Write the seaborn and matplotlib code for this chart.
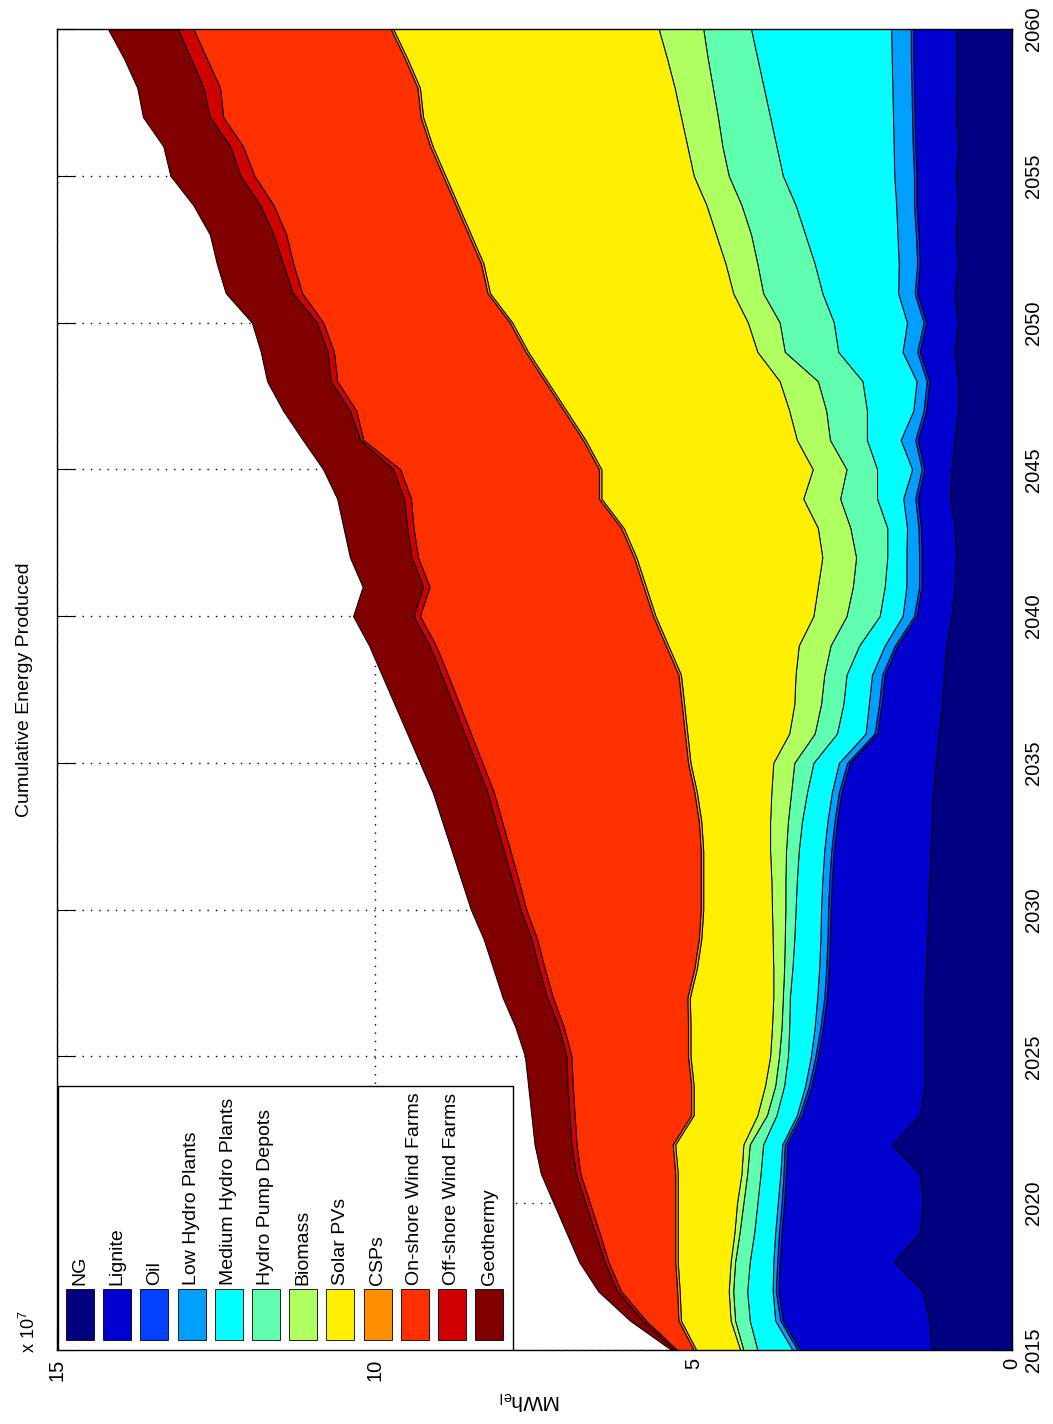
import numpy as np
import pandas as pd
import matplotlib
matplotlib.use("Agg")
import matplotlib.pyplot as plt
import seaborn as sns
from matplotlib.patches import Rectangle

# ---------------- data (values in 1e7 MWh_el) ----------------
years = list(range(2015, 2061))
sources = ["NG", "Lignite", "Oil", "Low Hydro Plants", "Medium Hydro Plants",
           "Hydro Pump Depots", "Biomass", "Solar PVs", "CSPs",
           "On-shore Wind Farms", "Off-shore Wind Farms", "Geothermy"]

ng = [1.26, 1.30, 1.40, 1.85, 1.45, 1.40, 1.45, 1.88, 1.45, 1.37,
      1.37, 1.37, 1.37, 1.35, 1.33, 1.32, 1.30, 1.28, 1.26, 1.24,
      1.20, 1.15, 1.10, 1.07, 1.03, 0.95, 0.90, 0.88, 0.90, 0.97,
      0.95, 0.90, 0.85, 0.85, 0.90, 0.85, 0.90, 0.85, 0.88, 0.85,
      0.88, 0.85, 0.88, 0.87, 0.87, 0.87]
lignite = [2.07, 2.30, 2.27, 1.80, 2.17, 2.18, 2.10, 1.65, 1.85, 1.78,
           1.68, 1.60, 1.54, 1.53, 1.53, 1.53, 1.53, 1.52, 1.49, 1.44,
           1.35, 0.97, 0.95, 0.93, 0.77, 0.55, 0.52, 0.54, 0.53, 0.51,
           0.43, 0.58, 0.50, 0.45, 0.55, 0.50, 0.59, 0.60, 0.59, 0.65,
           0.62, 0.67, 0.65, 0.67, 0.68, 0.68]
oil = [0.04, 0.04, 0.04, 0.04, 0.04, 0.04, 0.04, 0.04, 0.04, 0.04,
       0.04, 0.04, 0.04, 0.04, 0.04, 0.04, 0.04, 0.04, 0.04, 0.04,
       0.04, 0.04, 0.04, 0.04, 0.04, 0.04, 0.04, 0.04, 0.04, 0.04,
       0.04, 0.04, 0.04, 0.04, 0.04, 0.04, 0.04, 0.04, 0.04, 0.04,
       0.04, 0.04, 0.04, 0.04, 0.04, 0.04]
low_hydro = [0.08, 0.08, 0.05, 0.06, 0.06, 0.06, 0.05, 0.04, 0.04, 0.06,
             0.07, 0.09, 0.11, 0.11, 0.11, 0.11, 0.11, 0.11, 0.11, 0.11,
             0.13, 0.14, 0.16, 0.16, 0.16, 0.18, 0.20, 0.20, 0.18, 0.19,
             0.15, 0.23, 0.16, 0.16, 0.23, 0.26, 0.26, 0.29, 0.29, 0.28,
             0.31, 0.30, 0.30, 0.30, 0.30, 0.31]
medium_hydro = [0.55, 0.40, 0.40, 0.37, 0.33, 0.32, 0.31, 0.30, 0.32, 0.33,
                0.36, 0.40, 0.43, 0.42, 0.41, 0.40, 0.40, 0.40, 0.40, 0.39,
                0.40, 0.45, 0.40, 0.40, 0.40, 0.36, 0.34, 0.30, 0.31, 0.41,
                0.55, 0.53, 0.73, 0.85, 1.01, 1.15, 1.19, 1.32, 1.45, 1.58,
                1.75, 1.84, 1.93, 2.02, 2.11, 2.20]
hydro_pump = [0.22, 0.23, 0.22, 0.23, 0.23, 0.22, 0.21, 0.21, 0.15, 0.14,
              0.14, 0.12, 0.11, 0.13, 0.15, 0.16, 0.18, 0.20, 0.22, 0.25,
              0.30, 0.35, 0.35, 0.35, 0.45, 0.52, 0.50, 0.49, 0.58, 0.58,
              0.48, 0.58, 0.64, 0.70, 0.84, 0.85, 0.93, 0.90, 0.85, 0.85,
              0.85, 0.85, 0.82, 0.80, 0.78, 0.75]
biomass = [0.05, 0.07, 0.07, 0.07, 0.08, 0.10, 0.09, 0.10, 0.15, 0.16,
           0.14, 0.15, 0.15, 0.17, 0.19, 0.21, 0.22, 0.25, 0.28, 0.31,
           0.33, 0.40, 0.42, 0.45, 0.50, 0.52, 0.55, 0.53, 0.51, 0.58,
           0.53, 0.52, 0.58, 0.60, 0.43, 0.50, 0.47, 0.50, 0.55, 0.55,
           0.55, 0.55, 0.58, 0.60, 0.64, 0.70]
solar_pv = [0.69, 0.78, 0.77, 0.83, 0.89, 0.93, 1.00, 1.07, 1.00, 1.12,
            1.25, 1.28, 1.31, 1.20, 1.12, 1.08, 1.07, 1.05, 1.08, 1.17,
            1.30, 1.60, 1.73, 1.80, 2.05, 2.48, 2.70, 2.92, 3.05, 3.17,
            3.32, 3.32, 3.50, 3.65, 3.60, 3.70, 3.82, 3.80, 3.85, 3.90,
            3.90, 4.00, 4.05, 4.00, 4.08, 4.17]
csp = [0.04, 0.04, 0.04, 0.04, 0.04, 0.04, 0.04, 0.04, 0.04, 0.04,
       0.04, 0.04, 0.04, 0.04, 0.04, 0.04, 0.04, 0.04, 0.04, 0.04,
       0.04, 0.04, 0.04, 0.04, 0.04, 0.04, 0.04, 0.04, 0.04, 0.04,
       0.04, 0.04, 0.04, 0.04, 0.04, 0.04, 0.04, 0.04, 0.04, 0.04,
       0.04, 0.04, 0.04, 0.04, 0.04, 0.04]
onshore = [0.26, 0.51, 0.88, 1.05, 1.19, 1.34, 1.49, 1.51, 1.83, 1.86,
           1.83, 1.95, 2.11, 2.35, 2.54, 2.74, 2.86, 2.99, 3.09, 3.15,
           3.23, 3.36, 3.49, 3.62, 3.61, 3.66, 3.36, 3.39, 3.26, 2.95,
           3.12, 3.45, 3.26, 3.26, 3.01, 2.93, 2.91, 2.95, 2.86, 2.86,
           2.96, 2.94, 3.10, 3.10, 3.11, 3.10]
offshore = [0.04, 0.05, 0.06, 0.06, 0.07, 0.07, 0.07, 0.08, 0.08, 0.08,
            0.08, 0.08, 0.09, 0.09, 0.09, 0.09, 0.10, 0.10, 0.10, 0.10,
            0.10, 0.10, 0.10, 0.10, 0.10, 0.10, 0.10, 0.10, 0.10, 0.11,
            0.11, 0.05, 0.10, 0.10, 0.10, 0.10, 0.15, 0.16, 0.20, 0.21,
            0.22, 0.20, 0.21, 0.26, 0.25, 0.24]
geothermy = [0.05, 0.20, 0.30, 0.40, 0.45, 0.50, 0.55, 0.58, 0.60, 0.62,
             0.65, 0.68, 0.70, 0.72, 0.75, 0.78, 0.80, 0.82, 0.84, 0.86,
             0.88, 0.90, 0.92, 0.94, 0.95, 0.95, 0.95, 0.97, 1.00, 1.05,
             1.10, 0.90, 1.05, 1.00, 1.05, 1.02, 1.05, 1.04, 1.00, 1.05,
             1.10, 1.05, 1.05, 1.04, 1.05, 1.10]

value_ticks = [0, 5, 10, 15]
year_ticks = list(range(2015, 2061, 5))

# ---------------- style ----------------
sns.set_theme(style="white")
FONT = ["Liberation Sans", "DejaVu Sans"]
plt.rcParams["font.family"] = FONT
plt.rcParams["mathtext.fontset"] = "custom"
plt.rcParams["mathtext.rm"] = "Liberation Sans"
plt.rcParams["mathtext.it"] = "Liberation Sans"

# MATLAB jet(64) sampled for 12 series
colors = [(0, 0, 0.5), (0, 0, 0.8125), (0, 0.25, 1), (0, 0.625, 1),
          (0, 1, 1), (0.375, 1, 0.6875), (0.6875, 1, 0.375), (1, 0.9375, 0),
          (1, 0.5625, 0), (1, 0.1875, 0), (0.8125, 0, 0), (0.5, 0, 0)]

df = pd.DataFrame({s: v for s, v in zip(sources, [ng, lignite, oil, low_hydro, medium_hydro,
                                                   hydro_pump, biomass, solar_pv, csp,
                                                   onshore, offshore, geothermy])},
                  index=years)
cum = df.cumsum(axis=1)

W, H = 1053, 1424
fig = plt.figure(figsize=(W / 100, H / 100), dpi=100)
fig.patch.set_facecolor("white")
ax_l, ax_r, ax_t, ax_b = 57, 1012, 29, 1350
ax = fig.add_axes([ax_l / W, 1 - ax_b / H, (ax_r - ax_l) / W, (ax_b - ax_t) / H])
ax.set_facecolor("white")

prev = np.zeros(len(years))
for s, c in zip(sources, colors):
    top = cum[s].values
    ax.fill_betweenx(df.index.values, prev, top, facecolor=c, edgecolor="black",
                     linewidth=0.7, zorder=2)
    prev = top

ax.set_xlim(15, 0)
ax.set_ylim(2015, 2060)
ax.set_xticks(value_ticks)
ax.set_xticklabels([str(v) for v in value_ticks], rotation=90)
ax.set_yticks(year_ticks)
ax.set_yticklabels([str(y) for y in year_ticks], rotation=90, va="center")

ax.grid(True, color="black", linestyle=(0, (1, 5)), linewidth=1.0)
ax.set_axisbelow(True)
ax.tick_params(axis="y", which="both", left=True, right=True, labelleft=False,
               labelright=True, direction="in", length=13, width=0.8,
               labelsize=14.5, pad=9, colors="black")
ax.tick_params(axis="x", which="both", bottom=True, top=True, direction="in",
               length=13, width=0.8, labelsize=14.5, pad=6, colors="black")
for sp in ax.spines.values():
    sp.set_visible(True)
    sp.set_color("black")
    sp.set_linewidth(1.0)

# legend (built manually, rotated like the chart)
def axx(px):
    return (px - ax_l) / (ax_r - ax_l)

def axy(py):
    return (ax_b - py) / (ax_b - ax_t)

ax.add_patch(Rectangle((axx(58), axy(1350)), axx(513) - axx(58), axy(1086) - axy(1350),
                       transform=ax.transAxes, facecolor="white", edgecolor="black",
                       linewidth=1.0, zorder=5))
for i, (s, c) in enumerate(zip(sources, colors)):
    cx = 80 + 37.2 * i
    ax.add_patch(Rectangle((axx(cx - 14), axy(1340)), axx(cx + 14) - axx(cx - 14),
                           axy(1289) - axy(1340), transform=ax.transAxes,
                           facecolor=c, edgecolor="black", linewidth=0.6, zorder=6))
    ax.text(axx(cx), axy(1285), s, transform=ax.transAxes, rotation=90,
            ha="center", va="bottom", fontsize=14, color="black", zorder=7)

fig.text(25 / W, 1 - 690 / H, "Cumulative Energy Produced", rotation=90,
         ha="center", va="center", fontsize=14, color="black")
fig.text(530 / W, 1 - 1400 / H, r"$\mathrm{MWh}_{\mathrm{el}}$", rotation=180,
         ha="center", va="center", fontsize=15, color="black")
fig.text(29 / W, 1 - 1332 / H, r"x 10$^{7}$", rotation=90,
         ha="center", va="center", fontsize=13, color="black")

fig.savefig("out.png", dpi=100, facecolor="white")
